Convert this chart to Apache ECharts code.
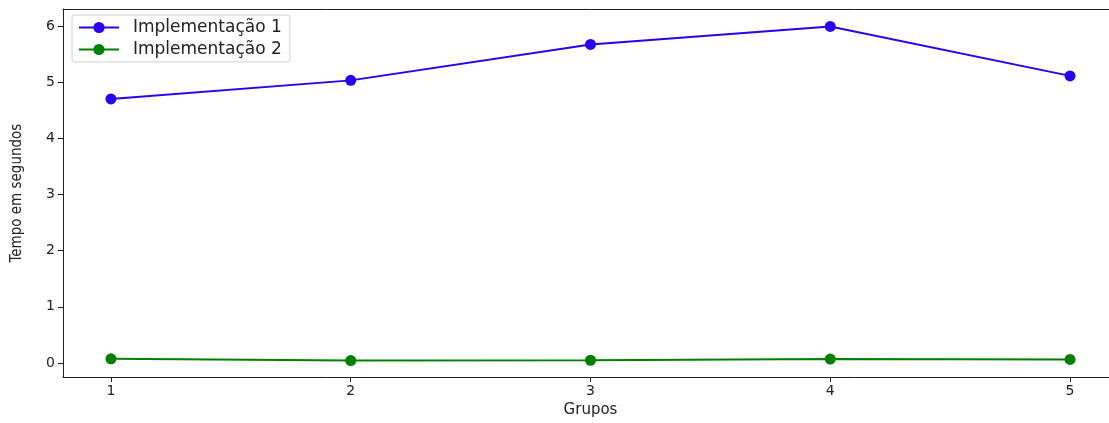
<!DOCTYPE html>
<html>
<head>
<meta charset="utf-8">
<script src="https://cdn.jsdelivr.net/npm/echarts@6/dist/echarts.min.js"></script>
<style>
  html, body { margin: 0; padding: 0; background: #fff; overflow: hidden; }
  #wrap { width: 1109px; height: 423px; overflow: hidden; }
  #chart { width: 1118px; height: 423px; }
</style>
</head>
<body>
<div id="wrap"><div id="chart"></div></div>
<script>
// Execution time per group, two implementations
const grupos = [1, 2, 3, 4, 5];
const implementacao1 = [4.70, 5.03, 5.67, 5.99, 5.11];
const implementacao2 = [0.075, 0.045, 0.05, 0.07, 0.065];
const yTicks = [0, 1, 2, 3, 4, 5, 6];
const seriesNames = ['Implementação 1', 'Implementação 2'];

const tickFont = "'DejaVu Sans', sans-serif";
const axisColor = '#222';

function pairs(values) {
  return grupos.map((g, i) => [g, values[i]]);
}

const chart = echarts.init(document.getElementById('chart'), null, { renderer: 'canvas' });

chart.setOption({
  animation: false,
  backgroundColor: '#fff',
  grid: { left: 63, top: 9, bottom: 41, right: 0, containLabel: false },
  legend: {
    left: 72,
    top: 15,
    orient: 'vertical',
    itemWidth: 40,
    itemHeight: 14,
    itemGap: 5,
    padding: [4, 8, 4, 6],
    borderColor: '#d0d0d0',
    borderWidth: 1,
    borderRadius: 3,
    backgroundColor: 'rgba(255,255,255,0.85)',
    textStyle: { fontFamily: tickFont, fontSize: 17, lineHeight: 16, color: '#222', padding: [0, 0, 0, 9] },
    data: seriesNames
  },
  xAxis: [{
    type: 'value',
    min: 0.8,
    max: 5.2,
    name: 'Grupos',
    nameLocation: 'middle',
    nameGap: 24,
    nameTextStyle: { fontFamily: tickFont, fontSize: 15, color: '#222' },
    axisLine: { show: true, onZero: false, lineStyle: { color: axisColor, width: 1 } },
    axisTick: { show: true, length: 5, lineStyle: { color: axisColor }, customValues: grupos },
    axisLabel: { fontFamily: tickFont, fontSize: 14, color: '#222', margin: 7, customValues: grupos },
    splitLine: { show: false }
  }, {
    type: 'value',
    position: 'top',
    min: 0.8,
    max: 5.2,
    axisLine: { show: true, onZero: false, lineStyle: { color: axisColor, width: 1 } },
    axisTick: { show: false },
    axisLabel: { show: false },
    splitLine: { show: false }
  }],
  yAxis: {
    type: 'value',
    min: -0.25,
    max: 6.3,
    name: 'Tempo em segundos',
    nameLocation: 'middle',
    nameGap: 38,
    nameTextStyle: {
      fontFamily: "'Liberation Sans Narrow', 'DejaVu Sans Condensed', sans-serif",
      fontSize: 15,
      color: '#222'
    },
    axisLine: { show: true, onZero: false, lineStyle: { color: axisColor, width: 1 } },
    axisTick: { show: true, length: 5, lineStyle: { color: axisColor }, customValues: yTicks },
    axisLabel: { fontFamily: tickFont, fontSize: 14, color: '#222', margin: 8, customValues: yTicks },
    splitLine: { show: false }
  },
  series: [{
    name: seriesNames[0],
    type: 'line',
    data: pairs(implementacao1),
    symbol: 'circle',
    symbolSize: 11,
    color: '#2a00f2',
    lineStyle: { width: 2 },
    itemStyle: { color: '#2a00f2' }
  }, {
    name: seriesNames[1],
    type: 'line',
    data: pairs(implementacao2),
    symbol: 'circle',
    symbolSize: 11,
    color: '#008000',
    lineStyle: { width: 2 },
    itemStyle: { color: '#008000' }
  }]
});
</script>
</body>
</html>
